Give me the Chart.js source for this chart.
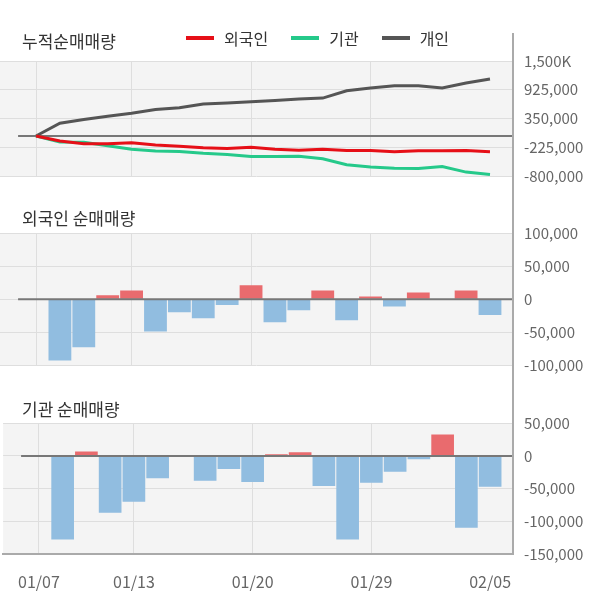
<!DOCTYPE html>
<html>
<head>
<meta charset="utf-8">
<script src="https://cdn.jsdelivr.net/npm/chart.js@4.4.1/dist/chart.umd.min.js"></script>
<style>
  body { margin: 0; background: #fff; font-family: "Noto Sans CJK KR", "Noto Sans", sans-serif; }
  #wrap { position: relative; width: 600px; height: 604px; overflow: hidden; }
  canvas { position: absolute; left: 0; }
  .ttl { position: absolute; left: 22px; font-size: 17px; line-height: 20px; color: #333; }
  #legend { position: absolute; left: 186px; top: 28px; display: flex; gap: 23px; font-size: 16px; line-height: 20px; color: #333; }
  #legend span { display: flex; align-items: center; }
  #legend i { display: inline-block; width: 28px; height: 4px; margin-right: 10px; }
  #axisLine { position: absolute; left: 512px; top: 33px; width: 2px; height: 522px; background: #aaa; }
</style>
</head>
<body>
<div id="wrap">
  <canvas id="cumChart" width="600" height="196" style="top:0"></canvas>
  <canvas id="forChart" width="600" height="195" style="top:190px"></canvas>
  <canvas id="insChart" width="600" height="224" style="top:380px"></canvas>
  <div class="ttl" style="top:31px">누적순매매량</div>
  <div id="legend">
    <span><i style="background:#e60f17"></i>외국인</span>
    <span><i style="background:#25c98a"></i>기관</span>
    <span><i style="background:#555"></i>개인</span>
  </div>
  <div class="ttl" style="top:208px">외국인 순매매량</div>
  <div class="ttl" style="top:399px">기관 순매매량</div>
  <div id="axisLine"></div>
</div>
<script>
// 날짜와 값
const dates = ['01/07','01/08','01/09','01/10','01/13','01/14','01/15','01/16','01/17','01/20',
               '01/21','01/22','01/23','01/24','01/29','01/30','01/31','02/03','02/04','02/05'];
const dateTicks = [0, 4, 9, 14, 19];

const foreignCum = [0,-100000,-155000,-153000,-135000,-180000,-205000,-236000,-248000,-224000,
                    -265000,-287000,-267000,-292000,-290000,-313000,-295000,-295000,-288000,-313000];
const instCum = [0,-118000,-124000,-196000,-264000,-298000,-311000,-347000,-368000,-410000,
                 -408000,-404000,-455000,-573000,-621000,-645000,-648000,-609000,-722000,-770000];
const retailCum = [0,255000,328000,396000,457000,529000,563000,638000,658000,684000,
                   710000,738000,758000,905000,960000,1006000,1006000,960000,1060000,1141000];

const foreignDaily = [null,-93000,-73000,6000,13000,-49000,-20000,-29000,-9000,21000,
                      -35000,-17000,13000,-32000,4000,-11000,10000,0,13000,-24000];
const instDaily = [null,-128000,7000,-87000,-70000,-34000,0,-38000,-20000,-40000,
                   2500,5600,-46000,-128000,-41000,-24000,-5000,33000,-110000,-47000];

const cumTicks = [1500000, 925000, 350000, -225000, -800000];
const foreignTicks = [100000, 50000, 0, -50000, -100000];
const instTicks = [50000, 0, -50000, -100000, -150000];

const FONT = '"Noto Sans CJK KR", "Noto Sans", sans-serif';
Chart.defaults.font.family = FONT;
Chart.defaults.animation = false;

const panelBg = {
  id: 'panelBg',
  beforeDraw(chart) {
    const { ctx, chartArea: a } = chart;
    ctx.save();
    ctx.fillStyle = '#f4f4f4';
    ctx.fillRect(a.left, a.top, a.right - a.left, a.bottom - a.top);
    ctx.restore();
  }
};

function drawZero(chart) {
  const { ctx, chartArea: a, scales } = chart;
  const y = scales.y.getPixelForValue(0);
  ctx.save();
  ctx.strokeStyle = '#777';
  ctx.lineWidth = 2;
  ctx.beginPath();
  ctx.moveTo(scales.x.getPixelForValue(-0.75), y);
  ctx.lineTo(a.right, y);
  ctx.stroke();
  ctx.restore();
}
const zeroLine = {
  id: 'zeroLine',
  beforeDatasetsDraw(chart, args, opts) { if (!opts.front) drawZero(chart); },
  afterDatasetsDraw(chart, args, opts) { if (opts.front) drawZero(chart); }
};

function xAxis(showLabels) {
  return {
    type: 'linear', min: -1.507, max: 19.963, offset: false,
    afterBuildTicks: s => { s.ticks = dateTicks.map(v => ({ value: v })); },
    afterFit: s => { s.height = showLabels ? 50 : 0; },
    grid: { offset: false, drawTicks: false, color: c => (c.tick && c.tick.value === 19) ? 'rgba(0,0,0,0)' : '#dedede' },
    border: { display: showLabels, color: '#aaa', width: 2 },
    ticks: { display: showLabels, padding: 18, color: '#666', font: { size: 16 }, maxRotation: 0, autoSkip: false,
             callback: v => dates[v] }
  };
}

function yAxis(ticks, fmt) {
  return {
    position: 'right', min: ticks[ticks.length - 1], max: ticks[0],
    afterBuildTicks: s => { s.ticks = ticks.map(v => ({ value: v })); },
    afterFit: s => { s.width = 87; },
    grid: { color: '#dedede', drawTicks: false },
    border: { display: false },
    ticks: { padding: 11, color: '#666', font: { size: 15 }, callback: fmt }
  };
}
const num = v => v.toLocaleString('en-US');

const toXY = arr => arr.map((v, i) => ({ x: i, y: v }));

// 누적순매매량
new Chart(document.getElementById('cumChart'), {
  type: 'line',
  data: {
    datasets: [
      { label: '외국인', data: toXY(foreignCum), borderColor: '#e60f17' },
      { label: '기관', data: toXY(instCum), borderColor: '#25c98a' },
      { label: '개인', data: toXY(retailCum), borderColor: '#555' }
    ]
  },
  options: {
    responsive: false,
    layout: { padding: { top: 61, bottom: 20, left: 0, right: 0 } },
    elements: { line: { borderWidth: 3, tension: 0 }, point: { radius: 0 } },
    scales: {
      x: xAxis(false),
      y: yAxis(cumTicks, v => v === 1500000 ? '1,500K' : num(v))
    },
    plugins: { legend: { display: false }, tooltip: { enabled: false }, zeroLine: { front: false } }
  },
  plugins: [panelBg, zeroLine]
});

function barChart(id, values, ticks, padTop) {
  const showX = id === 'insChart';
  new Chart(document.getElementById(id), {
    type: 'bar',
    data: {
      datasets: [{
        data: toXY(values),
        backgroundColor: c => (c.raw && c.raw.y >= 0) ? '#e96b6e' : '#91bde0',
        categoryPercentage: 1,
        barPercentage: 0.955
      }]
    },
    options: {
      responsive: false,
      layout: { padding: { top: padTop, bottom: showX ? 0 : 20, left: 0, right: 0 } },
      scales: { x: xAxis(showX), y: yAxis(ticks, num) },
      plugins: { legend: { display: false }, tooltip: { enabled: false }, zeroLine: { front: true } }
    },
    plugins: [panelBg, zeroLine]
  });
}

barChart('forChart', foreignDaily, foreignTicks, 43.3);
barChart('insChart', instDaily, instTicks, 43.3);
</script>
</body>
</html>
